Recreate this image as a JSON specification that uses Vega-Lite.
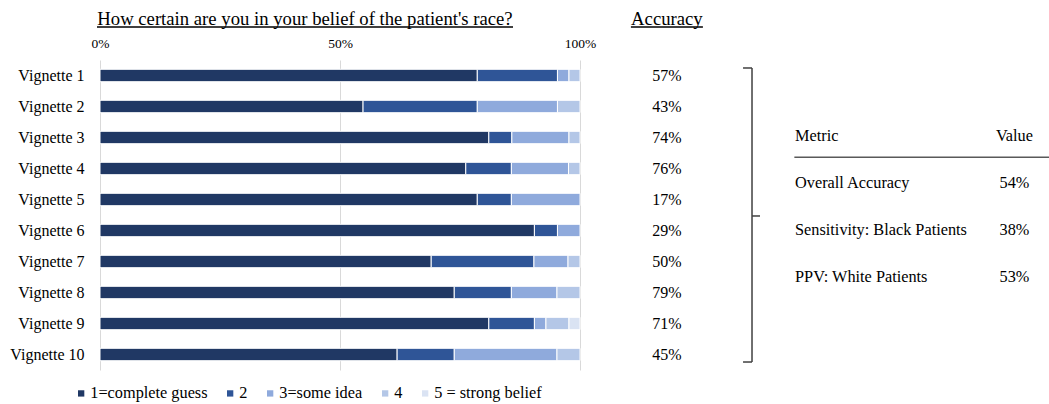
{
  "$schema": "https://vega.github.io/schema/vega-lite/v6.json",
  "width": 949,
  "height": 310,
  "autosize": "none",
  "padding": {"left": 100, "top": 60, "right": 0, "bottom": 34},
  "background": "white",
  "config": {
    "font": "Liberation Serif",
    "view": {"stroke": null},
    "text": {"font": "Liberation Serif", "fontSize": 16, "color": "black"}
  },
  "datasets": {
    "certainty": [
      {"vignette": "Vignette 1", "lvl": 1, "level": "1=complete guess", "pct": 78.6},
      {"vignette": "Vignette 1", "lvl": 2, "level": "2", "pct": 16.7},
      {"vignette": "Vignette 1", "lvl": 3, "level": "3=some idea", "pct": 2.4},
      {"vignette": "Vignette 1", "lvl": 4, "level": "4", "pct": 2.3},
      {"vignette": "Vignette 2", "lvl": 1, "level": "1=complete guess", "pct": 54.8},
      {"vignette": "Vignette 2", "lvl": 2, "level": "2", "pct": 23.8},
      {"vignette": "Vignette 2", "lvl": 3, "level": "3=some idea", "pct": 16.7},
      {"vignette": "Vignette 2", "lvl": 4, "level": "4", "pct": 4.7},
      {"vignette": "Vignette 3", "lvl": 1, "level": "1=complete guess", "pct": 81.0},
      {"vignette": "Vignette 3", "lvl": 2, "level": "2", "pct": 4.8},
      {"vignette": "Vignette 3", "lvl": 3, "level": "3=some idea", "pct": 11.9},
      {"vignette": "Vignette 3", "lvl": 4, "level": "4", "pct": 2.3},
      {"vignette": "Vignette 4", "lvl": 1, "level": "1=complete guess", "pct": 76.2},
      {"vignette": "Vignette 4", "lvl": 2, "level": "2", "pct": 9.5},
      {"vignette": "Vignette 4", "lvl": 3, "level": "3=some idea", "pct": 11.9},
      {"vignette": "Vignette 4", "lvl": 4, "level": "4", "pct": 2.4},
      {"vignette": "Vignette 5", "lvl": 1, "level": "1=complete guess", "pct": 78.6},
      {"vignette": "Vignette 5", "lvl": 2, "level": "2", "pct": 7.1},
      {"vignette": "Vignette 5", "lvl": 3, "level": "3=some idea", "pct": 14.3},
      {"vignette": "Vignette 6", "lvl": 1, "level": "1=complete guess", "pct": 90.5},
      {"vignette": "Vignette 6", "lvl": 2, "level": "2", "pct": 4.8},
      {"vignette": "Vignette 6", "lvl": 3, "level": "3=some idea", "pct": 4.7},
      {"vignette": "Vignette 7", "lvl": 1, "level": "1=complete guess", "pct": 69.0},
      {"vignette": "Vignette 7", "lvl": 2, "level": "2", "pct": 21.4},
      {"vignette": "Vignette 7", "lvl": 3, "level": "3=some idea", "pct": 7.1},
      {"vignette": "Vignette 7", "lvl": 4, "level": "4", "pct": 2.5},
      {"vignette": "Vignette 8", "lvl": 1, "level": "1=complete guess", "pct": 73.8},
      {"vignette": "Vignette 8", "lvl": 2, "level": "2", "pct": 11.9},
      {"vignette": "Vignette 8", "lvl": 3, "level": "3=some idea", "pct": 9.5},
      {"vignette": "Vignette 8", "lvl": 4, "level": "4", "pct": 4.8},
      {"vignette": "Vignette 9", "lvl": 1, "level": "1=complete guess", "pct": 81.0},
      {"vignette": "Vignette 9", "lvl": 2, "level": "2", "pct": 9.5},
      {"vignette": "Vignette 9", "lvl": 3, "level": "3=some idea", "pct": 2.4},
      {"vignette": "Vignette 9", "lvl": 4, "level": "4", "pct": 4.8},
      {"vignette": "Vignette 9", "lvl": 5, "level": "5 = strong belief", "pct": 2.3},
      {"vignette": "Vignette 10", "lvl": 1, "level": "1=complete guess", "pct": 61.9},
      {"vignette": "Vignette 10", "lvl": 2, "level": "2", "pct": 11.9},
      {"vignette": "Vignette 10", "lvl": 3, "level": "3=some idea", "pct": 21.4},
      {"vignette": "Vignette 10", "lvl": 4, "level": "4", "pct": 4.8}
    ],
    "accuracy": [
      {"vignette": "Vignette 1", "acc": "57%"},
      {"vignette": "Vignette 2", "acc": "43%"},
      {"vignette": "Vignette 3", "acc": "74%"},
      {"vignette": "Vignette 4", "acc": "76%"},
      {"vignette": "Vignette 5", "acc": "17%"},
      {"vignette": "Vignette 6", "acc": "29%"},
      {"vignette": "Vignette 7", "acc": "50%"},
      {"vignette": "Vignette 8", "acc": "79%"},
      {"vignette": "Vignette 9", "acc": "71%"},
      {"vignette": "Vignette 10", "acc": "45%"}
    ],
    "metrics": [
      {"row": 0, "metric": "Metric", "value": "Value"},
      {"row": 1, "metric": "Overall Accuracy", "value": "54%"},
      {"row": 2, "metric": "Sensitivity: Black Patients", "value": "38%"},
      {"row": 3, "metric": "PPV: White Patients", "value": "53%"}
    ]
  },
  "layer": [
    {
      "data": {"name": "certainty"},
      "mark": {"type": "bar", "stroke": "white", "strokeWidth": 1},
      "encoding": {
        "y": {
          "field": "vignette", "type": "nominal",
          "scale": {
            "domain": ["Vignette 1", "Vignette 2", "Vignette 3", "Vignette 4", "Vignette 5", "Vignette 6", "Vignette 7", "Vignette 8", "Vignette 9", "Vignette 10"],
            "paddingInner": 0.6, "paddingOuter": 0.3
          },
          "axis": {
            "title": null, "ticks": false, "domain": false, "labelPadding": 16,
            "labelFont": "Liberation Serif", "labelFontSize": 16, "labelColor": "black"
          }
        },
        "x": {
          "field": "pct", "type": "quantitative", "stack": "zero",
          "scale": {"domain": [0, 197.7], "nice": false, "zero": false},
          "axis": {
            "orient": "top", "title": null, "values": [0, 50, 100],
            "labelExpr": "datum.value + '%'", "grid": true, "gridColor": "#d9d9d9", "gridWidth": 1,
            "domain": false, "ticks": false, "labelPadding": 10, "labelFlush": false,
            "labelFont": "Liberation Serif", "labelFontSize": 13.5, "labelColor": "black"
          }
        },
        "order": {"field": "lvl", "type": "quantitative"},
        "color": {
          "field": "level", "type": "nominal",
          "scale": {
            "domain": ["1=complete guess", "2", "3=some idea", "4", "5 = strong belief"],
            "range": ["#203864", "#2f5597", "#8faadc", "#b4c7e7", "#dae3f3"]
          },
          "legend": {
            "orient": "none", "legendX": -27, "legendY": 325, "direction": "horizontal",
            "title": null, "symbolType": "square", "symbolSize": 40, "symbolStrokeWidth": 0,
            "labelFont": "Liberation Serif", "labelFontSize": 16.3, "labelColor": "black",
            "columnPadding": 14, "labelOffset": 1, "padding": 0, "labelLimit": 300
          }
        }
      }
    },
    {
      "data": {"name": "accuracy"},
      "mark": {"type": "text", "align": "center", "baseline": "middle", "fontSize": 16},
      "encoding": {
        "y": {
          "field": "vignette", "type": "nominal", "axis": null,
          "scale": {
            "domain": ["Vignette 1", "Vignette 2", "Vignette 3", "Vignette 4", "Vignette 5", "Vignette 6", "Vignette 7", "Vignette 8", "Vignette 9", "Vignette 10"],
            "paddingInner": 0.6, "paddingOuter": 0.3
          }
        },
        "x": {"datum": 118.1, "type": "quantitative"},
        "text": {"field": "acc"}
      }
    },
    {
      "data": {"name": "metrics"},
      "mark": {"type": "text", "align": "left", "baseline": "middle", "fontSize": 16.3},
      "encoding": {
        "y": {"field": "row", "type": "quantitative", "axis": null,
              "scale": {"domain": [-1.617, 4.979], "reverse": true, "nice": false, "zero": false}},
        "x": {"datum": 144.8, "type": "quantitative"},
        "text": {"field": "metric"}
      }
    },
    {
      "data": {"name": "metrics"},
      "mark": {"type": "text", "align": "center", "baseline": "middle", "fontSize": 16.3},
      "encoding": {
        "y": {"field": "row", "type": "quantitative", "axis": null,
              "scale": {"domain": [-1.617, 4.979], "reverse": true, "nice": false, "zero": false}},
        "x": {"datum": 190.5, "type": "quantitative"},
        "text": {"field": "value"}
      }
    },
    {
      "data": {"values": [{}]},
      "mark": {"type": "rule", "color": "#595959", "strokeWidth": 1.5},
      "encoding": {
        "y": {"datum": 0.453, "type": "quantitative", "axis": null,
              "scale": {"domain": [-1.617, 4.979], "reverse": true, "nice": false, "zero": false}},
        "x": {"datum": 144.65, "type": "quantitative"},
        "x2": {"datum": 197.7}
      }
    },
    {
      "data": {"values": [{"heading": "How certain are you in your belief of the patient's race?"}]},
      "mark": {"type": "text", "align": "center", "baseline": "alphabetic", "fontSize": 18.7},
      "encoding": {
        "y": {"datum": -2.372, "type": "quantitative", "axis": null,
              "scale": {"domain": [-1.617, 4.979], "reverse": true, "nice": false, "zero": false}},
        "x": {"datum": 42.7, "type": "quantitative"},
        "text": {"field": "heading"}
      }
    },
    {
      "data": {"values": [{}]},
      "mark": {"type": "rule", "color": "black", "strokeWidth": 1.5},
      "encoding": {
        "y": {"datum": -2.319, "type": "quantitative", "axis": null,
              "scale": {"domain": [-1.617, 4.979], "reverse": true, "nice": false, "zero": false}},
        "x": {"datum": -0.625, "type": "quantitative"},
        "x2": {"datum": 86.04}
      }
    },
    {
      "data": {"values": [{"heading": "Accuracy"}]},
      "mark": {"type": "text", "align": "center", "baseline": "alphabetic", "fontSize": 18.7},
      "encoding": {
        "y": {"datum": -2.372, "type": "quantitative", "axis": null,
              "scale": {"domain": [-1.617, 4.979], "reverse": true, "nice": false, "zero": false}},
        "x": {"datum": 118.1, "type": "quantitative"},
        "text": {"field": "heading"}
      }
    },
    {
      "data": {"values": [{}]},
      "mark": {"type": "rule", "color": "black", "strokeWidth": 1.5},
      "encoding": {
        "y": {"datum": -2.319, "type": "quantitative", "axis": null,
              "scale": {"domain": [-1.617, 4.979], "reverse": true, "nice": false, "zero": false}},
        "x": {"datum": 110.6, "type": "quantitative"},
        "x2": {"datum": 125.6}
      }
    },
    {
      "data": {"values": [{}]},
      "mark": {"type": "rule", "color": "#404040", "strokeWidth": 1.5},
      "encoding": {
        "x": {"datum": 135.83, "type": "quantitative"},
        "y": {"datum": -1.447, "type": "quantitative", "axis": null,
              "scale": {"domain": [-1.617, 4.979], "reverse": true, "nice": false, "zero": false}},
        "y2": {"datum": 4.809}
      }
    },
    {
      "data": {"values": [{}]},
      "mark": {"type": "rule", "color": "#404040", "strokeWidth": 1.5},
      "encoding": {
        "y": {"datum": -1.447, "type": "quantitative", "axis": null,
              "scale": {"domain": [-1.617, 4.979], "reverse": true, "nice": false, "zero": false}},
        "x": {"datum": 133.96, "type": "quantitative"},
        "x2": {"datum": 135.83}
      }
    },
    {
      "data": {"values": [{}]},
      "mark": {"type": "rule", "color": "#404040", "strokeWidth": 1.5},
      "encoding": {
        "y": {"datum": 4.809, "type": "quantitative", "axis": null,
              "scale": {"domain": [-1.617, 4.979], "reverse": true, "nice": false, "zero": false}},
        "x": {"datum": 133.96, "type": "quantitative"},
        "x2": {"datum": 135.83}
      }
    },
    {
      "data": {"values": [{}]},
      "mark": {"type": "rule", "color": "#404040", "strokeWidth": 1.5},
      "encoding": {
        "y": {"datum": 1.702, "type": "quantitative", "axis": null,
              "scale": {"domain": [-1.617, 4.979], "reverse": true, "nice": false, "zero": false}},
        "x": {"datum": 135.83, "type": "quantitative"},
        "x2": {"datum": 137.5}
      }
    }
  ],
  "resolve": {"scale": {"y": "independent"}}
}
